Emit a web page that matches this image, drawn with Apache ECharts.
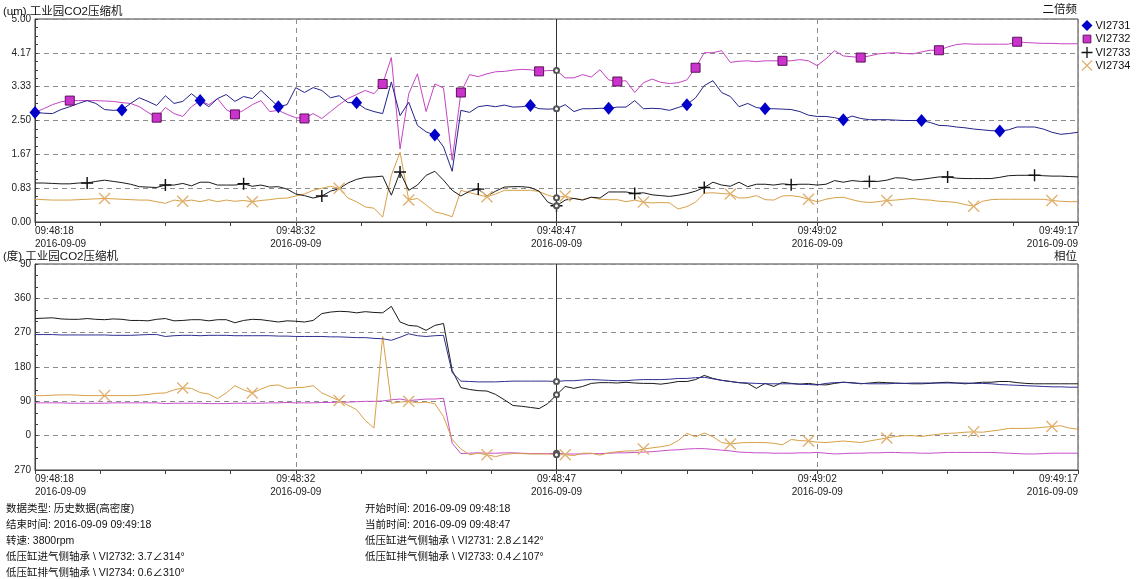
<!DOCTYPE html>
<html>
<head>
<meta charset="utf-8">
<script src="https://cdn.jsdelivr.net/npm/echarts@6/dist/echarts.min.js"></script>
<style>
html,body{margin:0;padding:0;background:#fff;}
#chart{width:1137px;height:579px;}
</style>
</head>
<body>
<div id="chart"></div>
<script>
// ---- sampling grid: seconds after 09:48:18 (0.5 s steps) ----
const T = Array.from({length: 121}, (_, i) => i * 0.5);
const cursorIdx = 60;               // 09:48:47 cursor
const timeLabels = ['09:48:18', '09:48:32', '09:48:47', '09:49:02', '09:49:17'];
const dateLabel = '2016-09-09';
const seriesNames = ['VI2731', 'VI2732', 'VI2733', 'VI2734'];

// ---- top chart: 2x amplitude (um) ----
const ampVI2731 = [
 2.70,2.68,2.67,2.77,2.84,2.92,2.99,2.92,2.77,2.75,
 2.76,2.92,3.06,2.97,2.87,3.11,2.92,2.97,3.16,2.99,
 2.84,3.04,3.14,2.97,3.09,3.04,3.24,3.04,2.84,2.89,
 3.31,3.19,3.31,3.24,3.06,3.11,2.94,2.94,2.79,2.72,
 2.67,3.45,2.62,2.95,2.38,2.22,2.14,1.85,1.25,2.75,
 2.70,2.84,2.87,2.84,2.88,2.83,2.84,2.87,2.79,2.78,
 2.79,2.89,2.72,2.79,2.79,2.80,2.80,2.83,2.83,2.99,
 2.79,2.80,2.79,2.75,2.82,2.89,3.06,3.36,3.48,3.19,
 3.09,2.84,2.92,2.82,2.79,2.79,2.78,2.77,2.72,2.63,
 2.60,2.60,2.57,2.52,2.61,2.55,2.52,2.52,2.52,2.51,
 2.50,2.50,2.50,2.45,2.38,2.37,2.34,2.32,2.29,2.27,
 2.25,2.24,2.27,2.34,2.34,2.34,2.29,2.21,2.16,2.18,2.21];
const ampVI2732 = [
 2.70,2.79,2.89,2.96,2.99,2.99,2.99,2.99,2.98,2.97,
 2.94,2.92,2.84,2.70,2.57,2.82,2.67,2.60,2.84,2.99,
 2.89,3.04,2.77,2.65,2.75,2.89,2.99,2.72,2.75,2.65,
 2.57,2.55,2.67,2.55,2.72,2.89,3.04,3.14,3.24,3.16,
 3.40,4.05,1.80,3.16,3.65,2.72,3.40,3.30,1.52,3.19,
 3.63,3.58,3.65,3.70,3.71,3.74,3.76,3.75,3.71,3.73,
 3.73,3.55,3.55,3.63,3.57,3.75,3.50,3.46,3.48,3.19,
 3.43,3.52,3.44,3.41,3.43,3.50,3.80,4.17,4.17,4.22,
 3.93,3.96,3.97,3.95,3.97,3.97,3.97,3.97,4.00,3.97,
 3.85,4.02,4.22,4.09,4.07,4.05,4.09,4.14,4.16,4.17,
 4.15,4.14,4.19,4.23,4.23,4.31,4.37,4.39,4.38,4.38,
 4.38,4.38,4.38,4.44,4.42,4.41,4.40,4.40,4.39,4.39,4.39];
const ampVI2733 = [
 0.96,0.96,0.95,0.94,0.94,0.96,0.96,1.00,1.03,1.00,
 0.97,0.93,0.87,0.86,0.85,0.91,0.91,0.95,0.89,0.98,
 0.98,0.91,0.91,0.91,0.94,0.88,0.91,0.86,0.87,0.81,
 0.69,0.65,0.59,0.64,0.76,0.82,0.96,1.05,1.10,1.11,
 1.13,0.66,1.23,0.78,0.91,1.15,1.25,1.03,0.78,0.64,
 0.76,0.81,0.64,0.76,0.86,0.87,0.87,0.85,0.76,0.49,
 0.40,0.54,0.58,0.54,0.61,0.59,0.74,0.74,0.74,0.70,
 0.72,0.67,0.65,0.63,0.66,0.70,0.76,0.85,0.98,0.91,
 0.88,0.98,0.87,0.93,0.93,0.91,0.94,0.92,0.93,0.93,
 0.91,0.93,1.02,0.98,1.02,1.00,1.00,1.00,1.03,1.09,
 1.08,1.03,1.05,1.08,1.11,1.11,1.08,1.07,1.07,1.07,
 1.07,1.10,1.14,1.15,1.15,1.15,1.14,1.13,1.13,1.12,1.11];
const ampVI2734 = [
 0.56,0.55,0.54,0.54,0.54,0.55,0.56,0.57,0.58,0.57,
 0.56,0.55,0.54,0.54,0.50,0.46,0.54,0.51,0.54,0.50,
 0.55,0.50,0.54,0.51,0.53,0.50,0.53,0.55,0.58,0.59,
 0.64,0.69,0.78,0.83,0.88,0.83,0.59,0.50,0.37,0.34,
 0.12,1.15,1.72,0.54,0.58,0.42,0.25,0.20,0.13,0.78,
 0.72,0.67,0.62,0.69,0.78,0.78,0.78,0.78,0.75,0.66,
 0.60,0.64,0.58,0.55,0.61,0.56,0.55,0.55,0.50,0.54,
 0.49,0.47,0.48,0.47,0.32,0.38,0.49,0.71,0.72,0.70,
 0.69,0.59,0.60,0.65,0.55,0.54,0.64,0.65,0.62,0.56,
 0.50,0.56,0.60,0.61,0.55,0.50,0.48,0.50,0.53,0.54,
 0.56,0.58,0.55,0.54,0.51,0.50,0.48,0.43,0.39,0.51,
 0.55,0.56,0.56,0.56,0.56,0.56,0.56,0.53,0.51,0.50,0.50];

// ---- bottom chart: phase (deg, unwrapped; axis labels wrap) ----
const phVI2731 = [
 265,265,265,264,264,264,264,264,264,263,
 263,263,264,265,265,260,262,263,263,262,
 263,263,263,262,262,262,262,262,261,261,
 260,260,260,260,259,259,258,257,257,255,
 254,250,258,267,262,260,262,263,165,143,
 142,141,141,141,142,143,143,143,143,143,
 142,144,144,146,147,146,145,144,144,146,
 147,147,147,148,150,150,152,153,149,145,
 142,139,138,137,136,136,136,136,135,134,
 133,137,139,140,138,137,136,136,136,137,
 137,138,138,138,138,138,138,138,137,137,
 136,134,133,132,131,130,129,128,128,127,127];
const phVI2732 = [
 86,86,86,86,85,85,85,85,85,86,
 86,86,86,86,86,84,85,85,85,85,
 84,84,84,85,85,85,85,86,86,87,
 86,86,86,87,87,88,88,89,90,90,
 91,94,96,92,94,96,96,98,-20,-47,
 -46,-45,-46,-46,-45,-45,-46,-47,-47,-47,
 -46,-48,-48,-48,-47,-47,-46,-45,-45,-44,
 -43,-42,-40,-38,-37,-35,-34,-34,-36,-38,
 -40,-43,-44,-45,-45,-46,-46,-46,-45,-45,
 -44,-46,-48,-47,-46,-46,-45,-45,-44,-44,
 -45,-45,-46,-46,-45,-44,-44,-44,-44,-44,
 -44,-45,-46,-47,-48,-48,-47,-46,-46,-46,-46];
const phVI2733 = [
 307,308,309,306,305,305,307,305,304,306,
 305,302,302,301,305,307,301,302,304,304,
 301,304,304,296,302,305,304,301,298,301,
 300,298,302,320,324,326,325,322,325,323,
 322,339,298,289,287,276,289,294,171,126,
 121,118,117,108,94,79,77,74,71,84,
 107,129,124,129,137,139,139,138,140,138,
 137,137,135,138,142,142,147,158,150,145,
 142,139,137,124,137,129,140,137,135,137,
 134,133,137,140,139,136,138,140,139,138,
 137,136,136,137,139,140,138,136,138,140,
 140,142,142,139,137,136,136,136,136,136,136];
const phVI2734 = [
 105,105,106,107,107,106,105,105,105,105,
 105,105,106,108,111,112,120,125,124,113,
 109,97,112,131,120,112,122,131,133,124,
 126,127,131,112,102,92,80,68,40,20,
 260,85,88,90,86,88,84,50,-10,-35,
 -50,-46,-50,-55,-49,-47,-47,-48,-48,-48,
 -50,-50,-52,-46,-46,-51,-45,-42,-40,-40,
 -35,-32,-29,-25,-13,6,-3,7,-3,-18,
 -22,-19,-18,-18,-18,-20,-24,-10,-13,-14,
 -17,-18,-16,-14,-16,-18,-14,-10,-6,-2,
 0,0,-2,1,4,6,7,9,10,9,
 12,15,19,19,19,20,22,24,26,20,17];

// ---- marker positions (sample indices that carry a symbol) ----
const markVI2731 = [0,10,19,28,37,46,57,66,75,84,93,102,111];
const markVI2732 = [4,14,23,31,40,49,58,67,76,86,95,104,113];
const markVI2733 = [6,15,24,33,42,51,60,69,77,87,96,105,115];
const markVI2734 = [8,17,25,35,43,52,61,70,80,89,98,108,117];

const FONT = '"Liberation Sans", "Noto Sans CJK SC", sans-serif';
const PLUS = 'path://M4.4,0H5.6V4.4H10V5.6H5.6V10H4.4V5.6H0V4.4H4.4Z';
const XMARK = 'path://M0,0.8L0.8,0L5,4.2L9.2,0L10,0.8L5.8,5L10,9.2L9.2,10L5,5.8L0.8,10L0,9.2L4.2,5Z';
const SMALLSQ = 'path://M0,0L0.01,0ZM10,10L9.99,10ZM1.5,1.5H8.5V8.5H1.5Z';

const toXY = arr => arr.map((v, i) => [T[i], v]);
const mk = (idx, size) => { const s = new Set(idx); return (v, p) => s.has(p.dataIndex) ? size : 0; };
const wrap = v => v < 0 ? v + 360 : (v > 360 ? v - 360 : v);
const cursorDot = arr => ({
  silent: true, animation: false, symbol: 'emptyCircle', symbolSize: 5,
  itemStyle: {color: '#555', borderColor: '#555', borderWidth: 1},
  label: {show: false},
  data: [{coord: [T[cursorIdx], arr[cursorIdx]]}]
});
const cursorLine = {
  silent: true, animation: false, symbol: ['none', 'none'],
  label: {show: false},
  lineStyle: {color: '#333', width: 1, type: 'solid'},
  data: [{xAxis: T[cursorIdx]}]
};

function xAxisFor(g) {
  return {
    type: 'value', gridIndex: g, min: 0, max: 60, interval: 15,
    axisLine: {show: true, onZero: false, lineStyle: {color: '#404040'}},
    axisTick: {show: true, length: 4, lineStyle: {color: '#404040'}},
    minorTick: {show: true, splitNumber: 4, length: 4, lineStyle: {color: '#404040'}},
    splitLine: {show: true, lineStyle: {color: '#8c8c8c', type: [5, 4]}},
    axisLabel: {
      formatter: v => timeLabels[Math.round(v / 15)] + '\n' + dateLabel,
      fontSize: 10, lineHeight: 13, color: '#222', fontFamily: FONT, margin: 3,
      alignMinLabel: 'left', alignMaxLabel: 'right', showMinLabel: true, showMaxLabel: true
    }
  };
}
function baseLine(name, g, arr, color) {
  return {
    name, type: 'line', xAxisIndex: g, yAxisIndex: g, data: toXY(arr),
    lineStyle: {color, width: 1}, animation: false, emphasis: {disabled: true},
    showAllSymbol: true, z: 2
  };
}

const ampFmt = v => v.toFixed(1);
const info = {
  left: [
    '数据类型: 历史数据(高密度)',
    '结束时间: 2016-09-09 09:49:18',
    '转速: 3800rpm',
    '低压缸进气侧轴承 \\ VI2732: ' + ampFmt(ampVI2732[cursorIdx]) + '∠' + wrap(phVI2732[cursorIdx]) + '°',
    '低压缸排气侧轴承 \\ VI2734: ' + ampFmt(ampVI2734[cursorIdx]) + '∠' + wrap(phVI2734[cursorIdx]) + '°'
  ],
  right: [
    '开始时间: 2016-09-09 09:48:18',
    '当前时间: 2016-09-09 09:48:47',
    '低压缸进气侧轴承 \\ VI2731: ' + ampFmt(ampVI2731[cursorIdx]) + '∠' + wrap(phVI2731[cursorIdx]) + '°',
    '低压缸排气侧轴承 \\ VI2733: ' + ampFmt(ampVI2733[cursorIdx]) + '∠' + wrap(phVI2733[cursorIdx]) + '°'
  ]
};

const chart = echarts.init(document.getElementById('chart'), null, {renderer: 'canvas'});
const titleStyle = {fontSize: 11.5, fontWeight: 'normal', color: '#111', fontFamily: FONT};
chart.setOption({
  animation: false,
  backgroundColor: '#fff',
  textStyle: {fontFamily: FONT},
  title: [
    {text: '(um) 工业园CO2压缩机', left: 3, top: 6, padding: 0, textStyle: titleStyle},
    {text: '二倍频', right: 60, top: 4, padding: 0, textStyle: titleStyle},
    {text: '(度) 工业园CO2压缩机', left: 3, top: 251, padding: 0, textStyle: titleStyle},
    {text: '相位', right: 60, top: 251, padding: 0, textStyle: titleStyle}
  ],
  legend: {
    orient: 'vertical', left: 1081, top: 20, padding: 0, itemGap: 2,
    itemWidth: 11, itemHeight: 11, selectedMode: false,
    textStyle: {fontSize: 11, color: '#111', fontFamily: FONT, padding: [0, 0, 0, -2]},
    data: [
      {name: seriesNames[0], icon: 'diamond', itemStyle: {color: '#0000c8', borderWidth: 0}},
      {name: seriesNames[1], icon: SMALLSQ, itemStyle: {color: '#cc33cc', borderColor: '#5a105a', borderWidth: 1}},
      {name: seriesNames[2], icon: PLUS, itemStyle: {color: '#111', borderWidth: 0}},
      {name: seriesNames[3], icon: XMARK, itemStyle: {color: '#e0b070', borderWidth: 0}}
    ]
  },
  grid: [
    {left: 35, top: 19, width: 1043, height: 203, show: true, borderColor: '#404040', borderWidth: 1},
    {left: 35, top: 264, width: 1043, height: 206, show: true, borderColor: '#404040', borderWidth: 1}
  ],
  xAxis: [xAxisFor(0), xAxisFor(1)],
  yAxis: [
    {
      type: 'value', gridIndex: 0, min: 0, max: 5, interval: 5 / 6,
      axisLine: {show: true, lineStyle: {color: '#404040'}},
      axisTick: {show: true, inside: true, length: 3, lineStyle: {color: '#404040'}},
      minorTick: {show: true, splitNumber: 4, length: 3, lineStyle: {color: '#404040'}},
      splitLine: {show: true, lineStyle: {color: '#8c8c8c', type: [5, 4]}},
      axisLabel: {formatter: v => v.toFixed(2), fontSize: 10, color: '#222', fontFamily: FONT, margin: 4}
    },
    {
      type: 'value', gridIndex: 1, min: -90, max: 450, interval: 90,
      axisLine: {show: true, lineStyle: {color: '#404040'}},
      axisTick: {show: true, inside: true, length: 3, lineStyle: {color: '#404040'}},
      minorTick: {show: true, splitNumber: 3, length: 3, lineStyle: {color: '#404040'}},
      splitLine: {show: true, lineStyle: {color: '#8c8c8c', type: [5, 4]}},
      axisLabel: {formatter: v => String(wrap(v)), fontSize: 10, color: '#222', fontFamily: FONT, margin: 4}
    }
  ],
  graphic: [
    {type: 'text', left: 6, top: 501, silent: true,
     style: {text: info.left.join('\n'), fill: '#111', fontSize: 10.5, fontFamily: FONT, lineHeight: 16}},
    {type: 'text', left: 365, top: 501, silent: true,
     style: {text: info.right.join('\n'), fill: '#111', fontSize: 10.5, fontFamily: FONT, lineHeight: 16}}
  ],
  series: [
    // ---- top chart ----
    Object.assign(baseLine(seriesNames[1], 0, ampVI2732, '#c444c4'), {
      symbol: 'rect', symbolSize: mk(markVI2732, 9),
      itemStyle: {color: '#cc33cc', borderColor: '#5a105a', borderWidth: 1},
      markPoint: cursorDot(ampVI2732), markLine: cursorLine
    }),
    Object.assign(baseLine(seriesNames[3], 0, ampVI2734, '#d8a048'), {
      symbol: XMARK, symbolSize: mk(markVI2734, 12),
      itemStyle: {color: '#e0b070', borderWidth: 0},
      markPoint: cursorDot(ampVI2734)
    }),
    Object.assign(baseLine(seriesNames[2], 0, ampVI2733, '#1a1a1a'), {
      symbol: PLUS, symbolSize: mk(markVI2733, 12),
      itemStyle: {color: '#111', borderWidth: 0},
      markPoint: cursorDot(ampVI2733)
    }),
    Object.assign(baseLine(seriesNames[0], 0, ampVI2731, '#23238a'), {
      symbol: 'diamond', symbolSize: mk(markVI2731, [11, 13]),
      itemStyle: {color: '#0000c8', borderWidth: 0},
      markPoint: cursorDot(ampVI2731)
    }),
    // ---- bottom chart ----
    Object.assign(baseLine(seriesNames[1], 1, phVI2732, '#c850c8'), {
      symbol: 'none', itemStyle: {color: '#cc33cc'},
      markPoint: cursorDot(phVI2732), markLine: cursorLine
    }),
    Object.assign(baseLine(seriesNames[3], 1, phVI2734, '#d8a048'), {
      symbol: XMARK, symbolSize: mk(markVI2734, 12),
      itemStyle: {color: '#e0b070', borderWidth: 0},
      markPoint: cursorDot(phVI2734)
    }),
    Object.assign(baseLine(seriesNames[2], 1, phVI2733, '#1a1a1a'), {
      symbol: 'none', itemStyle: {color: '#111'},
      markPoint: cursorDot(phVI2733)
    }),
    Object.assign(baseLine(seriesNames[0], 1, phVI2731, '#2f2f92'), {
      symbol: 'none', itemStyle: {color: '#0000c8'},
      markPoint: cursorDot(phVI2731)
    })
  ]
});
</script>
</body>
</html>
